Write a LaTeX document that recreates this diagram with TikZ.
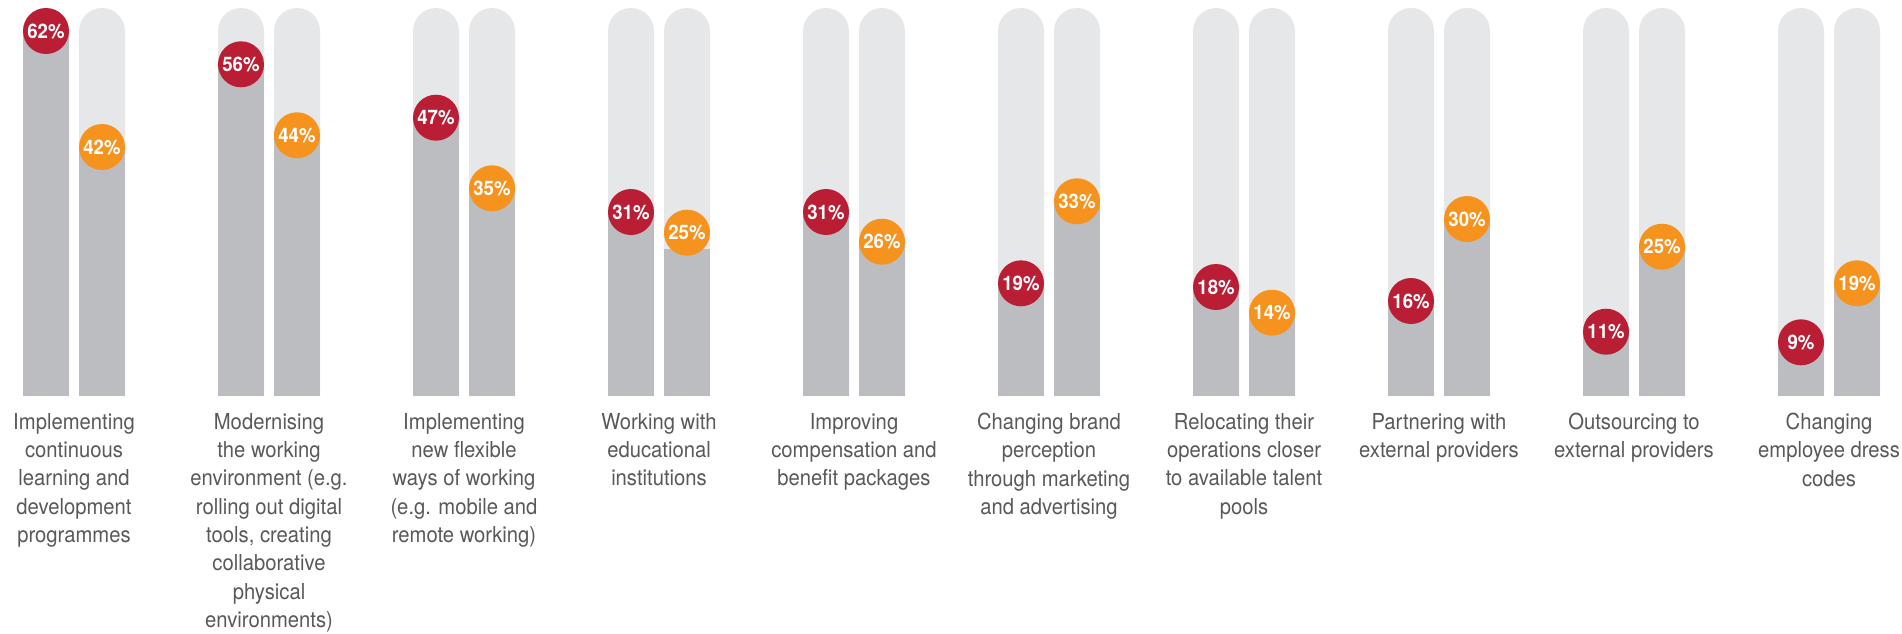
\documentclass[tikz,border=0pt]{standalone}
\usepackage{fontspec}
\setmainfont{TeX Gyre Heros}
\newfontfamily\labfont[FakeStretch=0.92]{TeX Gyre Heros}
\newfontfamily\numfont[FakeStretch=0.93]{TeX Gyre Heros}
\definecolor{crimson}{RGB}{185,30,53}
\definecolor{amber}{RGB}{246,146,30}
\definecolor{track}{RGB}{230,231,232}
\definecolor{fillbar}{RGB}{188,189,192}
\definecolor{labgray}{RGB}{88,89,91}
\tikzset{
  dot/.style={circle,inner sep=0pt,minimum size=46pt,text=white,
    font={\numfont\bfseries\fontsize{20}{21}\selectfont}},
  reddot/.style={dot,fill=crimson},
  orangedot/.style={dot,fill=amber},
  catlabel/.style={anchor=north,inner sep=0pt,align=center,text=labgray,
    font={\labfont\fontsize{22}{28.3}\selectfont}},
}
\newcommand\trackbar[1]{%
  \fill[track] (#1,396) -- (#1,31) arc (180:360:23) -- ({#1+46},396) -- cycle;}
\newcommand\chartgroup[6]{%
  \pgfmathsetmacro\gl{23+195*(#1-1)}%
  \pgfmathsetmacro\gr{\gl+56}%
  \pgfmathsetmacro\topa{396-5.9*#2}%
  \pgfmathsetmacro\topb{396-5.9*#4}%
  \trackbar{\gl}
  \trackbar{\gr}
  \fill[fillbar] (\gl,\topa) rectangle ({\gl+46},396);
  \fill[fillbar] (\gr,\topb) rectangle ({\gr+46},396);
  \node[reddot] (r#1) at ({\gl+23},#3) {#2\%};
  \node[orangedot] (o#1) at ({\gr+23},#5) {#4\%};
  \node[catlabel] (lab#1) at ({\gl+51},413) {#6};
}
\begin{document}
\begin{tikzpicture}[x=1pt,y=-1pt]
\useasboundingbox[fill=white] (0,0) rectangle (1902,634);
\chartgroup{1}{62}{31}{42}{147}{Implementing\\continuous\\learning and\\development\\programmes}
\chartgroup{2}{56}{64.3}{44}{135.3}{Modernising\\the working\\environment (e.g.\\rolling out digital\\tools, creating\\collaborative\\physical\\environments)}
\chartgroup{3}{47}{117.7}{35}{188.3}{Implementing\\new flexible\\ways of working\\(e.g. mobile and\\remote working)}
\chartgroup{4}{31}{212}{25}{232.7}{Working with\\educational\\institutions}
\chartgroup{5}{31}{212}{26}{241.7}{Improving\\compensation and\\benefit packages}
\chartgroup{6}{19}{283.3}{33}{201.3}{Changing brand\\perception\\through marketing\\and advertising}
\chartgroup{7}{18}{287}{14}{312.7}{Relocating their\\operations closer\\to available talent\\pools}
\chartgroup{8}{16}{301}{30}{219}{Partnering with\\external providers}
\chartgroup{9}{11}{331.7}{25}{246.7}{Outsourcing to\\external providers}
\chartgroup{10}{9}{342.3}{19}{283.3}{Changing\\employee dress\\codes}
\end{tikzpicture}
\end{document}
